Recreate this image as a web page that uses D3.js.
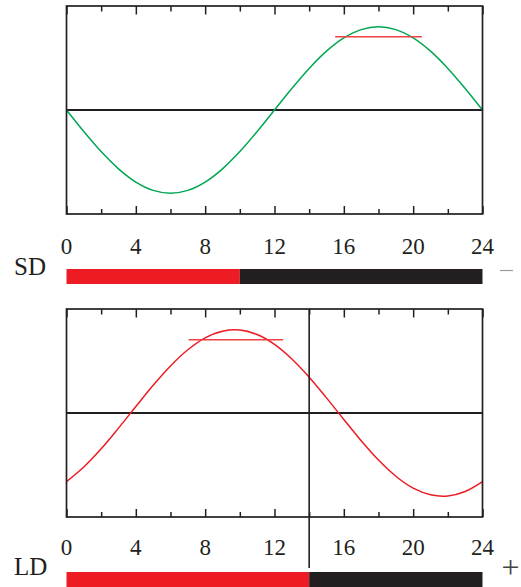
<!DOCTYPE html>
<html>
<head>
<meta charset="utf-8">
<script src="https://cdn.jsdelivr.net/npm/d3@7"></script>
<style>
html,body{margin:0;padding:0;background:#fff;}
svg{display:block;}
text{font-family:"Liberation Serif","DejaVu Serif",serif;fill:#231f20;}
</style>
</head>
<body>
<svg id="chart" width="521" height="587"></svg>
<script>
// ---- data ----
const hours = [0,1,2,3,4,5,6,7,8,9,10,11,12,13,14,15,16,17,18,19,20,21,22,23,24];
const sdValues = [0,-0.259,-0.5,-0.707,-0.866,-0.966,-1,-0.966,-0.866,-0.707,-0.5,-0.259,0,0.259,0.5,0.707,0.866,0.966,1,0.966,0.866,0.707,0.5,0.259,0];
const ldValues = [-0.824,-0.649,-0.431,-0.182,0.078,0.334,0.566,0.760,0.903,0.983,0.997,0.943,0.824,0.649,0.431,0.182,-0.078,-0.334,-0.566,-0.760,-0.903,-0.983,-0.997,-0.943,-0.824];
const tickLabels = [0,4,8,12,16,20,24];
const minorTicks = [2,6,10,14,18,22];
const sdThreshold = {start:15.5, end:20.5, value:0.88};
const ldThreshold = {start:7.05, end:12.5, value:0.88};
const sdLight = [0,10], sdDark = [10,24];
const ldLight = [0,14], ldDark = [14,24];
const ldMarker = 14;

const RED = "#ed1c24", BLACK = "#231f20", GREEN = "#00a651";

const svg = d3.select("#chart");
const x = d3.scaleLinear().domain([0,24]).range([66.5,482.5]);

function panel(opts){
  const y = d3.scaleLinear().domain([-1.25,1.25]).range([opts.bottom, opts.top]);
  const g = svg.append("g");
  // zero line
  g.append("line").attr("x1",x(0)).attr("x2",x(24)).attr("y1",y(0)).attr("y2",y(0))
    .attr("stroke",BLACK).attr("stroke-width",1.8);
  // ticks (inward) using d3 axes
  const majorTop = d3.axisBottom(x).tickValues(tickLabels).tickSize(8.5).tickFormat("");
  const minorTop = d3.axisBottom(x).tickValues(minorTicks).tickSize(5.5).tickFormat("");
  const majorBot = d3.axisTop(x).tickValues(tickLabels).tickSize(8).tickFormat("");
  const minorBot = d3.axisTop(x).tickValues(minorTicks).tickSize(5).tickFormat("");
  [[majorTop,opts.top],[minorTop,opts.top],[majorBot,opts.bottom],[minorBot,opts.bottom]].forEach(([ax,yy])=>{
    const a = g.append("g").attr("transform",`translate(0,${yy})`).call(ax);
    a.select(".domain").remove();
    a.selectAll("line").attr("stroke",BLACK).attr("stroke-width",1.5);
  });
  // curve
  const line = d3.line().x((d,i)=>x(hours[i])).y(d=>y(d)).curve(d3.curveCatmullRom.alpha(0.5));
  g.append("path").datum(opts.values).attr("d",line).attr("fill","none")
    .attr("stroke",opts.color).attr("stroke-width",1.5);
  // threshold line
  g.append("line").attr("x1",x(opts.thr.start)).attr("x2",x(opts.thr.end))
    .attr("y1",y(opts.thr.value)).attr("y2",y(opts.thr.value))
    .attr("stroke","#ef4043").attr("stroke-width",1.5);
  // frame
  g.append("rect").attr("x",x(0)).attr("y",opts.top).attr("width",x(24)-x(0)).attr("height",opts.bottom-opts.top)
    .attr("fill","none").attr("stroke",BLACK).attr("stroke-width",1.7);
  // tick labels
  g.selectAll("text.tl").data(tickLabels).enter().append("text").attr("class","tl")
    .attr("x",d=>x(d)).attr("y",opts.labelY).attr("text-anchor","middle")
    .attr("font-size",23).text(d=>d);
  // bars
  g.append("rect").attr("x",x(opts.light[0])).attr("width",x(opts.light[1])-x(opts.light[0]))
    .attr("y",opts.barY).attr("height",15).attr("fill",RED);
  g.append("rect").attr("x",x(opts.dark[0])).attr("width",x(opts.dark[1])-x(opts.dark[0]))
    .attr("y",opts.barY).attr("height",15).attr("fill",BLACK);
  // label
  g.append("text").attr("x",14).attr("y",opts.nameY).attr("font-size",25).text(opts.name);
  return {g,y};
}

panel({top:6,bottom:214,values:sdValues,color:GREEN,thr:sdThreshold,labelY:254,
  light:sdLight,dark:sdDark,barY:269,name:"SD",nameY:274.5});
panel({top:309,bottom:517,values:ldValues,color:RED,thr:ldThreshold,labelY:554.5,
  light:ldLight,dark:ldDark,barY:572,name:"LD",nameY:575});

// vertical marker in LD panel
svg.append("line").attr("x1",x(ldMarker)).attr("x2",x(ldMarker)).attr("y1",309).attr("y2",568)
  .attr("stroke",BLACK).attr("stroke-width",1.6);

// signs
svg.append("line").attr("x1",500).attr("x2",513).attr("y1",270.5).attr("y2",270.5)
  .attr("stroke","#9a9a9a").attr("stroke-width",1.2);
svg.append("text").attr("x",510.5).attr("y",578).attr("text-anchor","middle")
  .attr("font-size",32).style("fill","#444").text("+");
</script>
</body>
</html>
